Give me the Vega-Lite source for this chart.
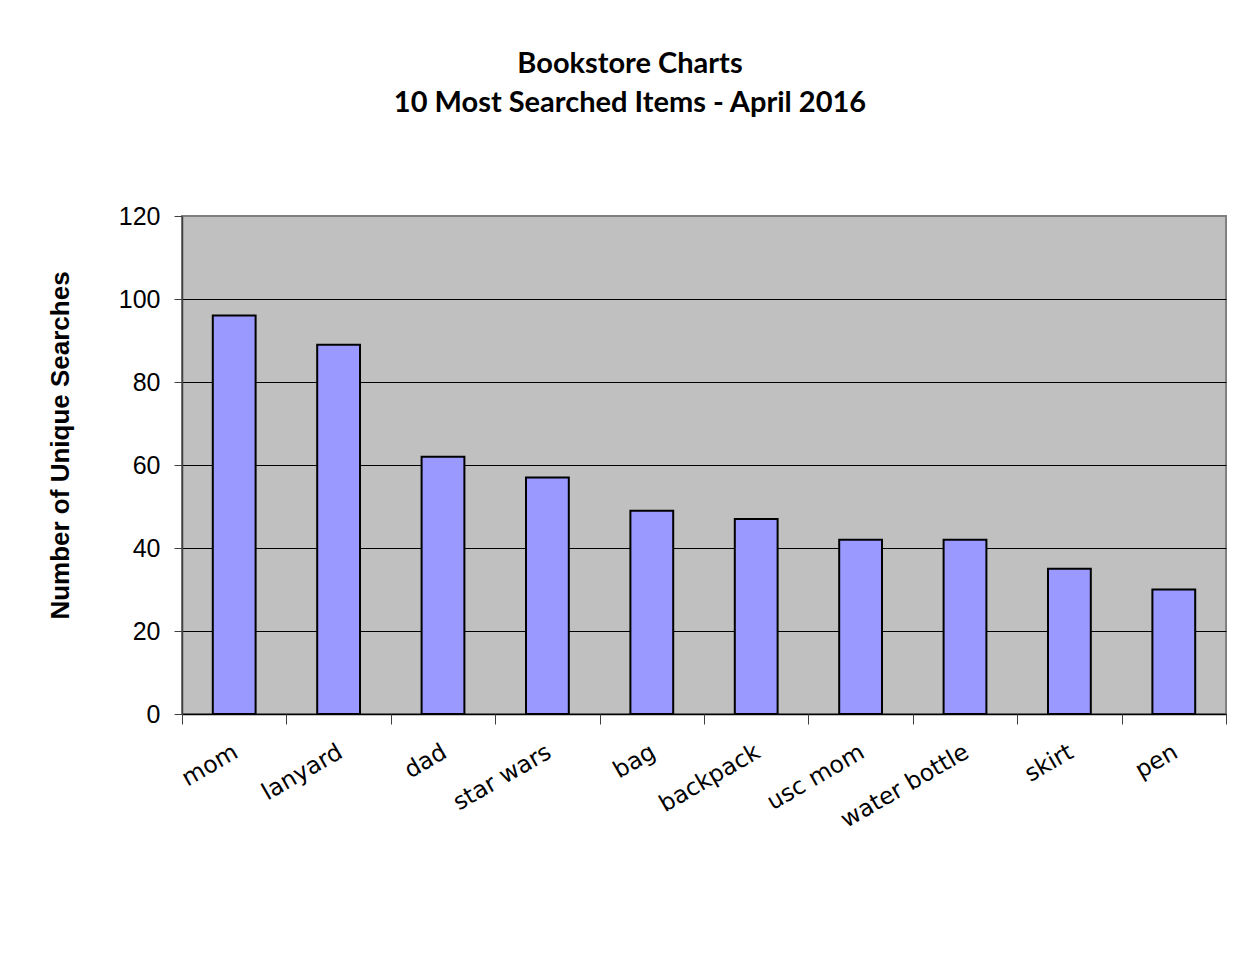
{
  "$schema": "https://vega.github.io/schema/vega-lite/v6.json",
  "width": 1044,
  "height": 498,
  "autosize": "none",
  "padding": {"left": 182, "top": 216, "right": 25, "bottom": 246},
  "background": "white",
  "title": {
    "text": ["Bookstore Charts", "10 Most Searched Items - April 2016"],
    "font": "Lato",
    "fontSize": 29,
    "fontWeight": "bold",
    "lineHeight": 39,
    "offset": 86,
    "dx": -74,
    "anchor": "middle",
    "color": "black"
  },
  "data": {
    "values": [
      {"item": "mom", "searches": 96},
      {"item": "lanyard", "searches": 89},
      {"item": "dad", "searches": 62},
      {"item": "star wars", "searches": 57},
      {"item": "bag", "searches": 49},
      {"item": "backpack", "searches": 47},
      {"item": "usc mom", "searches": 42},
      {"item": "water bottle", "searches": 42},
      {"item": "skirt", "searches": 35},
      {"item": "pen", "searches": 30}
    ]
  },
  "layer": [
    {
      "mark": {"type": "bar", "color": "#9999FF", "stroke": "black", "strokeWidth": 2},
      "encoding": {
        "x": {
          "field": "item",
          "type": "nominal",
          "sort": null,
          "scale": {"paddingInner": 0.59, "paddingOuter": 0.295},
          "axis": {
            "title": null,
            "labelAngle": -30,
            "labelFont": "DejaVu Sans",
            "labelFontSize": 23.5,
            "labelColor": "black",
            "labelAlign": "right",
            "labelBaseline": "middle",
            "labelPadding": 36,
            "labelOffset": 2,
            "ticks": false,
            "domainColor": "black",
            "domainWidth": 1.5
          }
        },
        "y": {
          "field": "searches",
          "type": "quantitative",
          "scale": {"domain": [0, 120]},
          "axis": {
            "title": "Number of Unique Searches",
            "titleFont": "Liberation Sans",
            "titleFontSize": 26,
            "titleFontWeight": "bold",
            "titleColor": "black",
            "titleX": -122,
            "titleY": 229,
            "titleAngle": -90,
            "titleAlign": "center",
            "titleBaseline": "middle",
            "values": [0, 20, 40, 60, 80, 100, 120],
            "labelFont": "Liberation Sans",
            "labelFontSize": 25,
            "labelColor": "black",
            "labelPadding": 14,
            "tickSize": 8,
            "tickColor": "#404040",
            "domainColor": "#404040",
            "domainWidth": 1.5,
            "grid": true,
            "gridColor": {"condition": {"test": "datum.value == 120", "value": "#808080"}, "value": "black"},
            "gridOpacity": 1
          }
        }
      }
    },
    {
      "mark": {"type": "point", "opacity": 0},
      "encoding": {
        "x": {
          "datum": 0,
          "type": "quantitative",
          "scale": {"domain": [0, 10], "nice": false, "zero": false},
          "axis": {
            "orient": "bottom",
            "title": null,
            "labels": false,
            "domain": false,
            "grid": false,
            "values": [0, 1, 2, 3, 4, 5, 6, 7, 8, 9, 10],
            "tickSize": 10,
            "tickColor": "#404040",
            "tickWidth": 1
          }
        },
        "y": {"datum": 0, "type": "quantitative"}
      }
    }
  ],
  "resolve": {"scale": {"x": "independent"}, "axis": {"x": "independent"}},
  "config": {"view": {"fill": "#C0C0C0", "stroke": "#808080", "strokeWidth": 2}}
}
